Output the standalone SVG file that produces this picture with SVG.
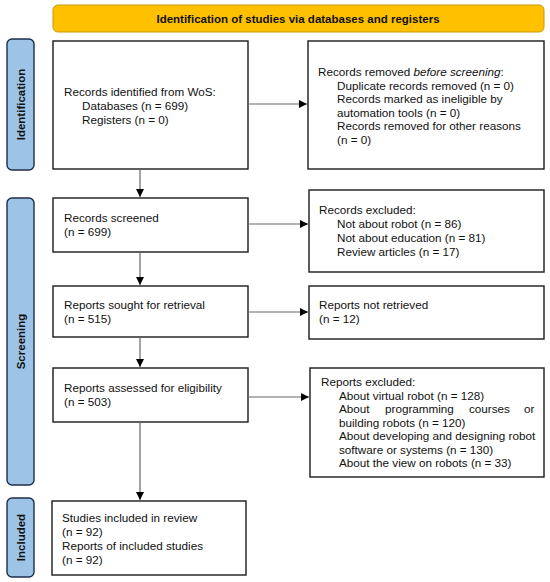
<svg xmlns="http://www.w3.org/2000/svg" width="550" height="582" viewBox="0 0 550 582">
<defs>
<marker id="ah" viewBox="0 0 10 10" refX="10" refY="5" markerWidth="8" markerHeight="8" markerUnits="userSpaceOnUse" orient="auto">
<path d="M0,0 L10,5 L0,10 Z" fill="#000"/>
</marker>
</defs>
<style>
.box{fill:#fff;stroke:#1a1a1a;stroke-width:1.4}
.pill{fill:#9dc3e6;stroke:#1f2d4a;stroke-width:1.4}
.banner{fill:#ffc000;stroke:#c99800;stroke-width:1}
.t{font-family:"Liberation Sans",Arial,sans-serif;font-size:11.7px;fill:#111}
.b{font-family:"Liberation Sans",Arial,sans-serif;font-size:11.5px;font-weight:bold;fill:#111}
.c{stroke:#666;stroke-width:1.2;fill:none;marker-end:url(#ah)}
</style>
<g id="banner">
<rect class="banner" x="53" y="5" width="491" height="27" rx="5"/>
<text class="b" x="298" y="23" text-anchor="middle">Identification of studies via databases and registers</text>
</g>
<g id="phase-identification">
<rect class="pill" x="7" y="39" width="27" height="131" rx="5"/>
<text class="b" transform="translate(25,104.5) rotate(-90)" text-anchor="middle">Identification</text>
</g>
<g id="phase-screening">
<rect class="pill" x="7" y="198" width="27" height="287" rx="5"/>
<text class="b" transform="translate(25,341.5) rotate(-90)" text-anchor="middle">Screening</text>
</g>
<g id="phase-included">
<rect class="pill" x="7" y="498" width="27" height="79" rx="5"/>
<text class="b" transform="translate(25,537.5) rotate(-90)" text-anchor="middle">Included</text>
</g>
<g id="identified">
<rect class="box" x="53" y="41" width="195" height="128"/>
<text class="t" x="64" y="96">Records identified from WoS:</text>
<text class="t" x="82" y="110">Databases (n = 699)</text>
<text class="t" x="82" y="124">Registers (n = 0)</text>
</g>
<g id="removed">
<rect class="box" x="308" y="41" width="236" height="128"/>
<text class="t" x="318" y="76">Records removed <tspan font-style="italic">before screening</tspan>:</text>
<text class="t" x="337" y="89.5">Duplicate records removed  (n = 0)</text>
<text class="t" x="337" y="103">Records marked as ineligible by</text>
<text class="t" x="337" y="116.5">automation tools (n = 0)</text>
<text class="t" x="337" y="130">Records removed for other reasons</text>
<text class="t" x="337" y="143.5">(n = 0)</text>
</g>
<g id="screened">
<rect class="box" x="53" y="198" width="195" height="54"/>
<text class="t" x="64" y="222">Records screened</text>
<text class="t" x="64" y="236">(n = 699)</text>
</g>
<g id="excluded">
<rect class="box" x="309" y="190" width="235" height="82"/>
<text class="t" x="319" y="214">Records excluded:</text>
<text class="t" x="337" y="228">Not about robot (n = 86)</text>
<text class="t" x="337" y="242">Not about education (n = 81)</text>
<text class="t" x="337" y="256">Review articles (n = 17)</text>
</g>
<g id="sought">
<rect class="box" x="53" y="286" width="195" height="51"/>
<text class="t" x="64" y="309">Reports sought for retrieval</text>
<text class="t" x="64" y="323">(n = 515)</text>
</g>
<g id="not-retrieved">
<rect class="box" x="309" y="286" width="235" height="53"/>
<text class="t" x="319" y="309">Reports not retrieved</text>
<text class="t" x="319" y="323">(n = 12)</text>
</g>
<g id="assessed">
<rect class="box" x="53" y="368" width="195" height="54"/>
<text class="t" x="64" y="392">Reports assessed for eligibility</text>
<text class="t" x="64" y="406">(n = 503)</text>
</g>
<g id="reports-excluded">
<rect class="box" x="310" y="368" width="234" height="109"/>
<text class="t" x="321" y="386">Reports excluded:</text>
<text class="t" x="339" y="399.5">About virtual robot (n = 128)</text>
<text class="t" y="413"><tspan x="339">About</tspan><tspan x="385">programming</tspan><tspan x="469">courses</tspan><tspan x="524">or</tspan></text>
<text class="t" x="339" y="426.5">building robots (n = 120)</text>
<text class="t" x="339" y="440">About developing and designing robot</text>
<text class="t" x="339" y="453.5">software or systems (n = 130)</text>
<text class="t" x="339" y="467">About the view on robots (n = 33)</text>
</g>
<g id="included">
<rect class="box" x="52" y="501" width="194" height="74"/>
<text class="t" x="62" y="522">Studies included in review</text>
<text class="t" x="62" y="536">(n = 92)</text>
<text class="t" x="62" y="550">Reports of included studies</text>
<text class="t" x="62" y="564">(n = 92)</text>
</g>
<g id="connectors">
<line class="c" x1="248" y1="104" x2="307" y2="104"/>
<line class="c" x1="140" y1="169" x2="140" y2="197"/>
<line class="c" x1="248" y1="224" x2="308" y2="224"/>
<line class="c" x1="140" y1="252" x2="140" y2="285"/>
<line class="c" x1="248" y1="312" x2="308" y2="312"/>
<line class="c" x1="140" y1="337" x2="140" y2="367"/>
<line class="c" x1="248" y1="397" x2="309" y2="397"/>
<line class="c" x1="140" y1="422" x2="140" y2="500"/>
</g>
</svg>
